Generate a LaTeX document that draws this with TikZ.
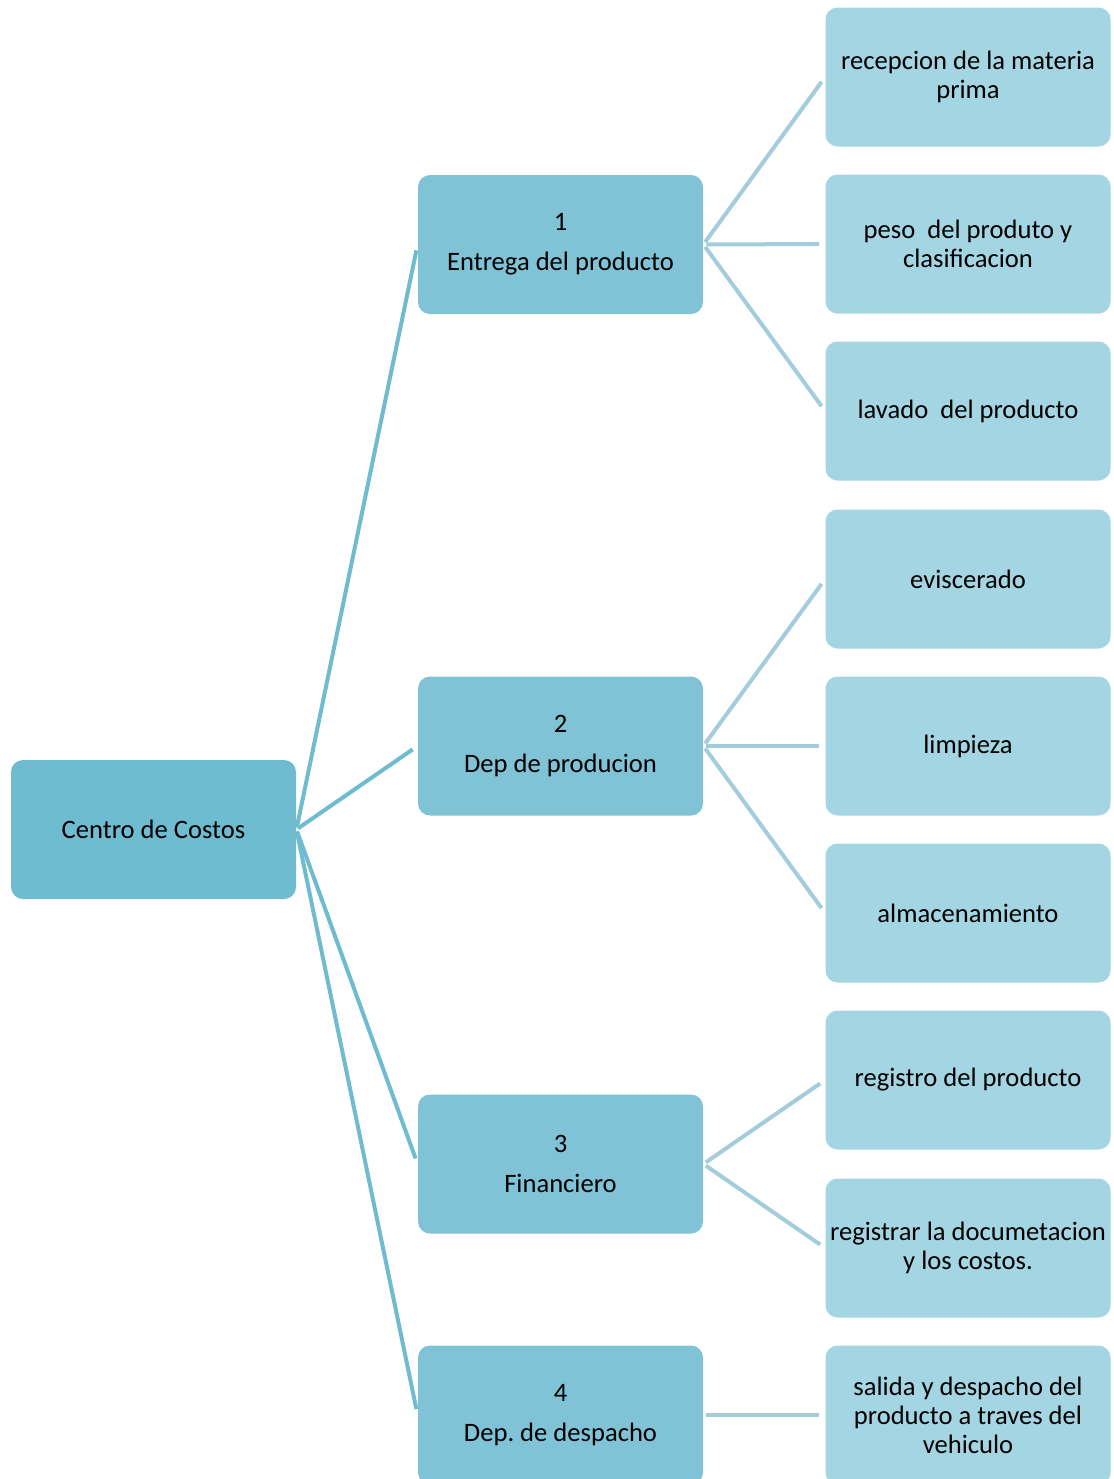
\documentclass[tikz,border=0pt]{standalone}
\usepackage{fontspec}
\setmainfont{Carlito}
\frenchspacing
\definecolor{rootc}{HTML}{6FBBCF}
\definecolor{midc}{HTML}{80C3D6}
\definecolor{leafc}{HTML}{A4D5E3}
\definecolor{linea}{HTML}{6FBBCF}
\definecolor{lineb}{HTML}{A3CCDD}
\tikzset{
  box/.style={rounded corners=6pt, minimum width=142.5pt, minimum height=69.5pt, inner sep=0pt, align=center, font=\fontsize{13.3}{14.5}\selectfont, text=black},
  rootbox/.style={box, fill=rootc},
  midbox/.style={box, fill=midc},
  leafbox/.style={box, fill=leafc},
  linkA/.style={draw=linea, line width=2pt, shorten <=1pt, shorten >=3pt},
  linkB/.style={draw=lineb, line width=2pt, shorten <=1.5pt, shorten >=3pt},
}
\begin{document}
\begin{tikzpicture}[x=0.5pt,y=-0.5pt]
\clip (0,0) rectangle (1114,1479);
\useasboundingbox (0,0) rectangle (1114,1479);
\node[rootbox] (root) at (153.5,829.5) {Centro de Costos};
\node[midbox] (m1) at (560.5,244.5) {1\\[5.5pt]Entrega del producto};
\node[midbox] (m2) at (560.5,746) {2\\[5.5pt]Dep de producion};
\node[midbox] (m3) at (560.5,1164) {3\\[5.5pt]Financiero};
\node[midbox] (m4) at (560.5,1415) {4\\[5.5pt]Dep. de despacho};
\node[leafbox] (a) at (968,77) {recepcion de la materia\\prima};
\node[leafbox] (b) at (968,244) {peso\ \ del produto y\\clasificacion};
\node[leafbox] (c) at (968,411) {lavado\ \ del producto};
\node[leafbox] (d) at (968,579) {eviscerado};
\node[leafbox] (e) at (968,746) {limpieza};
\node[leafbox] (f) at (968,913) {almacenamiento};
\node[leafbox] (g) at (968,1080) {registro del producto};
\node[leafbox] (h) at (968,1248) {registrar la documetacion\\y los costos.};
\node[leafbox] (i) at (968,1415) {salida y despacho del\\producto a traves del\\vehiculo};
\foreach \m in {m1,m2,m3,m4}
  \draw[linkA] (root.east) -- (\m.west);
\foreach \l in {a,b,c}
  \draw[linkB] (m1.east) -- (\l.west);
\foreach \l in {d,e,f}
  \draw[linkB] (m2.east) -- (\l.west);
\foreach \l in {g,h}
  \draw[linkB] (m3.east) -- (\l.west);
\draw[linkB] (m4.east) -- (i.west);
\end{tikzpicture}
\end{document}
